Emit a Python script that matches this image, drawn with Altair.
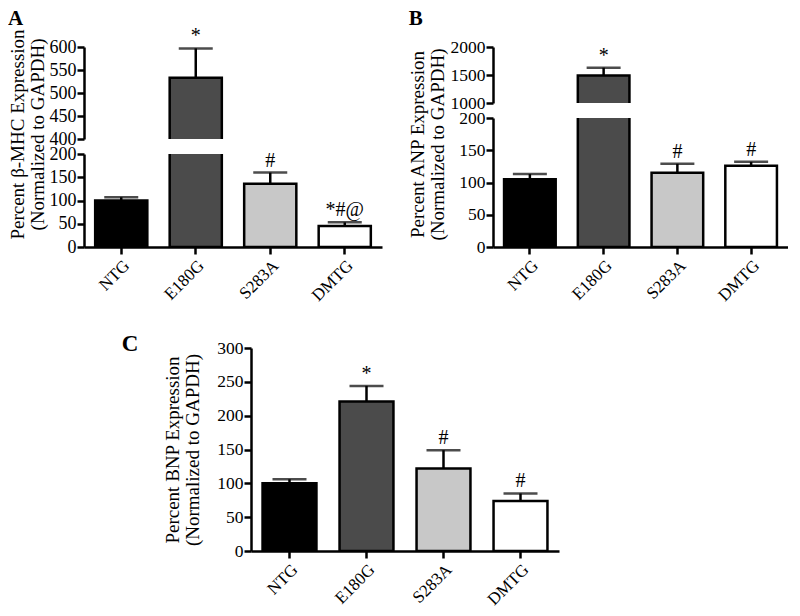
import altair as alt
import pandas as pd

groups = ["NTG", "E180G", "S283A", "DMTG"]
fills = ["#000000", "#4b4b4b", "#c8c8c8", "#ffffff"]

a_mean = [100, 533, 136, 45]
a_err = [7, 64, 24, 8]
a_sig = ["", "*", "#", "*#@"]

b_mean = [105, 1490, 115, 126]
b_err = [8, 140, 14, 6]
b_sig = ["", "*", "#", "#"]

c_mean = [100, 221, 122, 74]
c_err = [6, 23, 27, 11]
c_sig = ["", "*", "#", "#"]

a_title = ["Percent \u03b2-MHC Expression", "(Normalized to GAPDH)"]
b_title = ["Percent ANP Expression", "(Normalized to GAPDH)"]
c_title = ["Percent BNP Expression", "(Normalized to  GAPDH)"]

FONT = "Liberation Serif"
LW = 2.5


def frame(mean, err, sig):
    return pd.DataFrame({
        "group": groups,
        "mean": mean,
        "top": [m + e for m, e in zip(mean, err)],
        "sig": sig,
    })


def segment(df, lo, hi, ticks, height, width, show_x, label_size=17.5,
            title=None, title_y=None, title_pad=2):
    xscale = alt.Scale(domain=groups, paddingInner=0.3, paddingOuter=0.15)
    if show_x:
        xaxis = alt.Axis(title=None, labelAngle=-45, labelFont=FONT, labelFontSize=17,
                         labelColor="black", domainColor="black", domainWidth=LW,
                         tickColor="black", tickWidth=LW, tickSize=7, labelPadding=3)
    else:
        xaxis = None
    yscale = alt.Scale(domain=[lo, hi], zero=False, nice=False)
    ykw = dict(values=ticks, format="d", labelFont=FONT, labelFontSize=label_size,
               labelColor="black", labelOverlap=False, labelFlush=False,
               domainColor="black", domainWidth=LW, tickColor="black", tickWidth=LW,
               tickSize=7, labelPadding=1, grid=False)
    if title is not None:
        ykw.update(title=title, titleFont=FONT, titleFontSize=19, titleFontWeight="normal",
                   titleColor="black", titleLineHeight=20, titlePadding=title_pad)
        if title_y is not None:
            ykw["titleY"] = title_y
    else:
        ykw["title"] = None
    yaxis = alt.Axis(**ykw)

    def X():
        return alt.X("group:N", scale=xscale, axis=xaxis, sort=groups)

    def Y(field):
        return alt.Y(field, type="quantitative", scale=yscale, axis=yaxis)

    base = alt.Chart(df)
    bars = base.mark_bar(stroke="black", strokeWidth=LW, clip=True).encode(
        x=X(),
        y=Y("mean"),
        y2=alt.datum(0),
        color=alt.Color("group:N", scale=alt.Scale(domain=groups, range=fills), legend=None),
    )
    rule = base.mark_rule(color="black", strokeWidth=LW, clip=True).encode(
        x=X(), y=Y("mean"), y2="top:Q")
    cap = base.mark_tick(color="black", thickness=LW, size=34, clip=True).encode(
        x=X(), y=Y("top"))
    txt = base.transform_filter(
        f"datum.top >= {lo} && datum.top <= {hi} && datum.sig != ''"
    ).mark_text(font=FONT, fontSize=20, baseline="bottom", dy=-2, color="black").encode(
        x=X(), y=Y("top"), text="sig:N")
    return alt.layer(bars, rule, cap, txt).properties(width=width, height=height)


def letter(t, offset=0, dx=0, size=21):
    return alt.TitleParams(t, anchor="start", frame="bounds", font=FONT, fontSize=size,
                           fontWeight="bold", color="black", offset=offset, dx=dx)


da = frame(a_mean, a_err, a_sig)
db = frame(b_mean, b_err, b_sig)
dc = frame(c_mean, c_err, c_sig)

a_up = segment(da, 400, 600, [400, 450, 500, 550, 600], 92, 298, False, 18)
a_low = segment(da, 0, 200, [0, 50, 100, 150, 200], 93, 298, True, 18, a_title, -20)
panel_a = alt.vconcat(a_up, a_low, spacing=15, bounds="flush").properties(title=letter("A", -3))

b_up = segment(db, 1000, 2000, [1000, 1500, 2000], 56, 295, False)
b_low = segment(db, 0, 200, [0, 50, 100, 150, 200], 129, 295, True, 17.5, b_title, 26, 11)
panel_b = alt.vconcat(b_up, b_low, spacing=15, bounds="flush").properties(title=letter("B", 9))

c_chart = segment(dc, 0, 300, [0, 50, 100, 150, 200, 250, 300], 203, 308, True, 17.5,
                  c_title, None, 14)
panel_c = c_chart.properties(title=letter("C", -17, -42, 23))

spacer = alt.Chart(pd.DataFrame({"v": [0]})).mark_point(opacity=0).encode(
    x=alt.X("v:Q", axis=None), y=alt.Y("v:Q", axis=None)).properties(width=17, height=10)

top_row = alt.hconcat(panel_a, panel_b, spacing=26)
bottom_row = alt.hconcat(spacer, panel_c, spacing=20)

chart = alt.vconcat(top_row, bottom_row, spacing=29).properties(
    padding=0, background="white"
).configure_view(stroke=None)

chart.save("out.html", embed_options={"renderer": "svg", "actions": False})
